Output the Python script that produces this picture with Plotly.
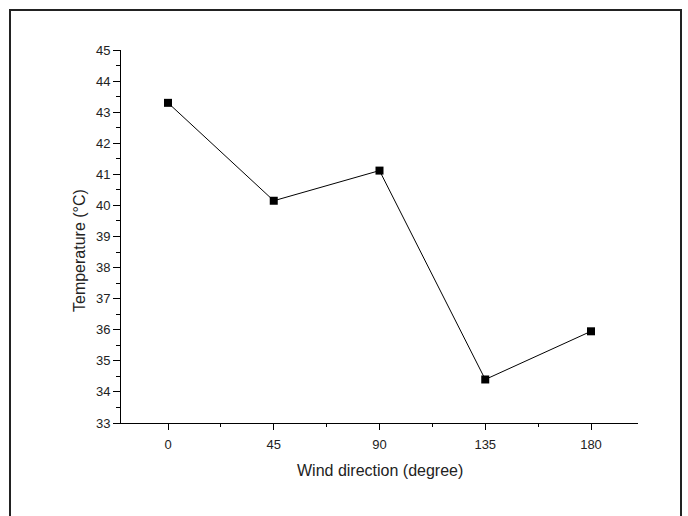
import plotly.graph_objects as go

wind_direction = [0, 45, 90, 135, 180]
temperature = [43.3, 40.15, 41.12, 34.4, 35.95]
x_tick_vals = [0, 45, 90, 135, 180]
y_tick_vals = list(range(33, 46))

L, R, T, B = 121, 638, 50, 423
W, H = R - L, B - T


def px_x(px):
    return (px - L) / W


def px_y(py):
    return (B - py) / H


FAM = "Liberation Sans, Arial, sans-serif"
tick_font = dict(family=FAM, size=13, color="#222")
title_font = dict(family=FAM, size=16, color="#222")

fig = go.Figure()
fig.add_trace(go.Scatter(
    x=wind_direction, y=temperature, mode="lines+markers",
    line=dict(color="black", width=1),
    marker=dict(symbol="square", size=8, color="black"),
    showlegend=False,
))

fig.update_layout(
    width=688, height=516,
    margin=dict(l=L, r=688 - R, t=T, b=516 - B),
    paper_bgcolor="white", plot_bgcolor="white",
    font=tick_font,
    xaxis=dict(
        range=[-20, 200], tickvals=x_tick_vals, ticks="outside", ticklen=6,
        tickcolor="black", showline=True, linecolor="black", linewidth=1,
        showgrid=False, zeroline=False, tickfont=tick_font, ticklabelstandoff=3,
        minor=dict(tickvals=[22.5, 67.5, 112.5, 157.5], ticks="outside", ticklen=3, tickcolor="black"),
    ),
    yaxis=dict(
        range=[33, 45], tickvals=y_tick_vals, ticks="outside", ticklen=7,
        tickcolor="black", showline=True, linecolor="black", linewidth=1,
        showgrid=False, zeroline=False, tickfont=tick_font,
        minor=dict(dtick=0.5, tick0=33, ticks="outside", ticklen=4, tickcolor="black"),
    ),
    annotations=[
        dict(text="Wind direction (degree)", xref="paper", yref="paper",
             x=px_x(379.5), y=px_y(470), xanchor="center", yanchor="middle",
             showarrow=False, font=title_font),
        dict(text="Temperature (°C)", xref="paper", yref="paper",
             x=px_x(79), y=px_y(251), xanchor="center", yanchor="middle",
             textangle=-90, showarrow=False, font=title_font),
    ],
    shapes=[dict(
        type="rect", xref="paper", yref="paper",
        x0=px_x(10), x1=px_x(681),
        y0=px_y(530), y1=px_y(10),
        line=dict(color="#222", width=2), fillcolor="rgba(0,0,0,0)",
    )],
)

fig.write_html("out.html")
